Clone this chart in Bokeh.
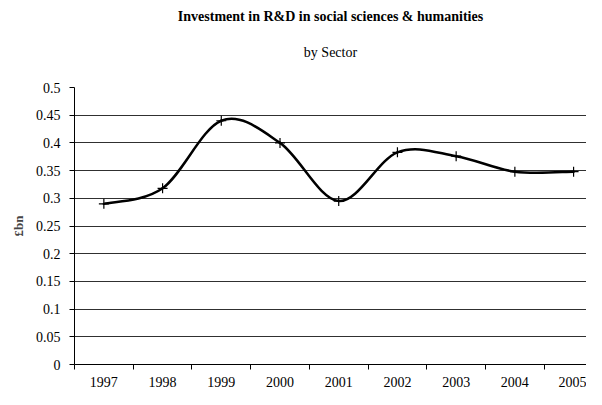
import numpy as np
from bokeh.plotting import figure
from bokeh.models import FixedTicker, Title, Range1d
from bokeh.embed import file_html
from bokeh.resources import INLINE

# ---- data ----
years = ["1997", "1998", "1999", "2000", "2001", "2002", "2003", "2004", "2005"]
values = [0.29, 0.318, 0.44, 0.40, 0.295, 0.383, 0.376, 0.348, 0.348]
y_ticks = [0, 0.05, 0.1, 0.15, 0.2, 0.25, 0.3, 0.35, 0.4, 0.45, 0.5]
y_tick_labels = ["0", "0.05", "0.1", "0.15", "0.2", "0.25", "0.3", "0.35", "0.4", "0.45", "0.5"]
title_text = "Investment in R&D in social sciences & humanities"
subtitle_text = "by Sector"
y_label = "£bn"

FONT = "'Liberation Serif', 'DejaVu Serif', serif"

n = len(years)
xs = [i + 0.5 for i in range(n)]
bounds = [float(i) for i in range(n + 1)]

# smoothed line (cubic bezier through the points, Excel-like smoothing)
px = [xs[0]] + xs + [xs[-1]]
py = [values[0]] + values + [values[-1]]
x0s, y0s, x1s, y1s, cx0s, cy0s, cx1s, cy1s = [], [], [], [], [], [], [], []
for i in range(n - 1):
    j = i + 1
    x0s.append(px[j]); y0s.append(py[j])
    x1s.append(px[j + 1]); y1s.append(py[j + 1])
    cx0s.append(px[j] + (px[j + 1] - px[j - 1]) / 6.0)
    cy0s.append(py[j] + (py[j + 1] - py[j - 1]) / 6.0)
    cx1s.append(px[j + 1] - (px[j + 2] - px[j]) / 6.0)
    cy1s.append(py[j + 1] - (py[j + 2] - py[j]) / 6.0)

p = figure(width=586, height=389,
           x_range=Range1d(0, 8.72), y_range=Range1d(0, 0.5),
           output_backend="svg", toolbar_location=None,
           min_border_left=74, min_border_right=0,
           min_border_bottom=10, min_border_top=0)
p.title.text = ""
p.outline_line_color = None
p.background_fill_color = "white"
p.border_fill_color = "white"

sub = Title(text=subtitle_text + "\n ", align="center", text_font=FONT,
            text_font_size="14px", text_font_style="normal",
            text_color="black", standoff=25)
main = Title(text=title_text, align="center", text_font=FONT,
             text_font_size="14px", text_font_style="bold",
             text_color="black", standoff=13)
p.add_layout(sub, "above")
p.add_layout(main, "above")

# grid
p.xgrid.visible = False
p.ygrid.ticker = FixedTicker(ticks=y_ticks)
p.ygrid.grid_line_color = "#303030"
p.ygrid.grid_line_width = 1

# y axis
p.yaxis.ticker = FixedTicker(ticks=y_ticks)
p.yaxis.major_label_overrides = {float(t): l for t, l in zip(y_ticks, y_tick_labels)}
p.yaxis.major_tick_out = 5
p.yaxis.major_tick_in = 0
p.yaxis.minor_tick_out = 0
p.yaxis.minor_tick_in = 0
p.yaxis.major_label_standoff = 9
p.yaxis.major_label_text_font = FONT
p.yaxis.major_label_text_font_size = "14px"
p.yaxis.major_label_text_color = "black"
p.yaxis.axis_label = y_label
p.yaxis.axis_label_text_font = FONT
p.yaxis.axis_label_text_font_style = "bold"
p.yaxis.axis_label_text_font_size = "13px"
p.yaxis.axis_label_standoff = 7
p.yaxis.axis_line_color = "black"
p.yaxis.major_tick_line_color = "black"

# x axis (ticks at category boundaries, labels at category centres)
p.xaxis.ticker = FixedTicker(ticks=xs, minor_ticks=bounds)
p.xaxis.major_label_overrides = {float(x): y for x, y in zip(xs, years)}
p.xaxis.major_tick_out = 0
p.xaxis.major_tick_in = 0
p.xaxis.minor_tick_out = 5
p.xaxis.minor_tick_in = 0
p.xaxis.minor_tick_line_color = "black"
p.xaxis.major_label_standoff = 7
p.xaxis.major_label_text_font = FONT
p.xaxis.major_label_text_font_size = "14px"
p.xaxis.major_label_text_color = "black"
p.xaxis.axis_line_color = "black"

p.bezier(x0=x0s, y0=y0s, x1=x1s, y1=y1s, cx0=cx0s, cy0=cy0s, cx1=cx1s, cy1=cy1s,
         line_color="black", line_width=2.5, line_cap="round")
p.scatter(xs, values, marker="cross", size=10, line_color="black", line_width=1.2)

open("out.html", "w").write(file_html(p, INLINE))
